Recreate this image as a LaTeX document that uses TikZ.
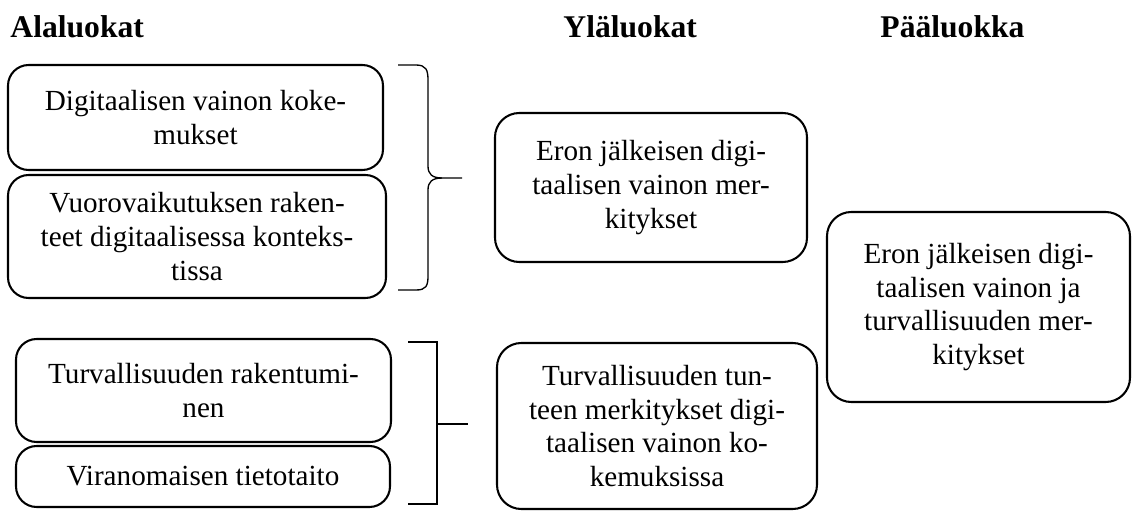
\documentclass[tikz,border=0pt]{standalone}
\usepackage{fontspec}
\setmainfont{Liberation Serif}
\begin{document}
\begin{tikzpicture}[x=0.4115pt,y=-0.4115pt,
  box/.style={draw,line width=0.85pt,rounded corners=8.5pt,align=center,
    font=\fontsize{12}{13.8}\selectfont,inner sep=0pt},
  bigbox/.style={box,rounded corners=10pt},
  head/.style={font=\fontsize{13}{15}\selectfont\bfseries,inner sep=0pt,anchor=base},
  brk/.style={line width=0.55pt}]
\useasboundingbox (0,0) rectangle (1132,511);
% headers
\node[head,anchor=base west] (hA) at (10,37) {Alaluokat};
\node[head,anchor=base west] (hY) at (563,37) {Yläluokat};
\node[head,anchor=base west] (hP) at (880,37) {Pääluokka};
% left boxes
\node[box,minimum width=375*0.4115pt,minimum height=105*0.4115pt] (b1) at (195.5,117.5)
  {Digitaalisen vainon koke-\\mukset};
\node[box,minimum width=378*0.4115pt,minimum height=123*0.4115pt] (b2) at (197,236.5)
  {Vuorovaikutuksen raken-\\teet digitaalisessa konteks-\\tissa};
\node[box,minimum width=375*0.4115pt,minimum height=103*0.4115pt] (b3) at (203.5,390.5)
  {Turvallisuuden rakentumi-\\nen};
\node[box,minimum width=374*0.4115pt,minimum height=61*0.4115pt] (b4) at (203,476.5)
  {Viranomaisen tietotaito};
% middle boxes
\node[bigbox,minimum width=312*0.4115pt,minimum height=149*0.4115pt] (b5) at (651,187.5)
  {Eron jälkeisen digi-\\taalisen vainon mer-\\kitykset};
\node[bigbox,minimum width=320*0.4115pt,minimum height=166*0.4115pt] (b6) at (657,426)
  {Turvallisuuden tun-\\teen merkitykset digi-\\taalisen vainon ko-\\kemuksissa};
% right box
\node[bigbox,minimum width=303*0.4115pt,minimum height=190*0.4115pt] (b7) at (978.5,307)
  {Eron jälkeisen digi-\\taalisen vainon ja\\turvallisuuden mer-\\kitykset};
% curly brace
\coordinate (brT) at (398,65);
\coordinate (brB) at (398,290);
\coordinate (brTip) at (462,178);
\draw[brk] (brT) -- (416,65) .. controls (426,65) and (428,70) .. (428,80)
  -- (428,166) .. controls (428,174) and (432,178) .. (442,178) -- (brTip);
\draw[brk] (442,178) .. controls (432,178) and (428,182) .. (428,190)
  -- (428,276) .. controls (428,286) and (426,290) .. (416,290) -- (brB);
% square bracket
\coordinate (sqT) at (408,342);
\coordinate (sqB) at (408,504);
\coordinate (sqM) at (437,424);
\coordinate (sqTip) at (468,424);
\draw[brk,line width=0.6pt] (sqT) -- (437,342) -- (437,504) -- (sqB);
\draw[brk,line width=0.6pt] (sqM) -- (sqTip);
\end{tikzpicture}
\end{document}
